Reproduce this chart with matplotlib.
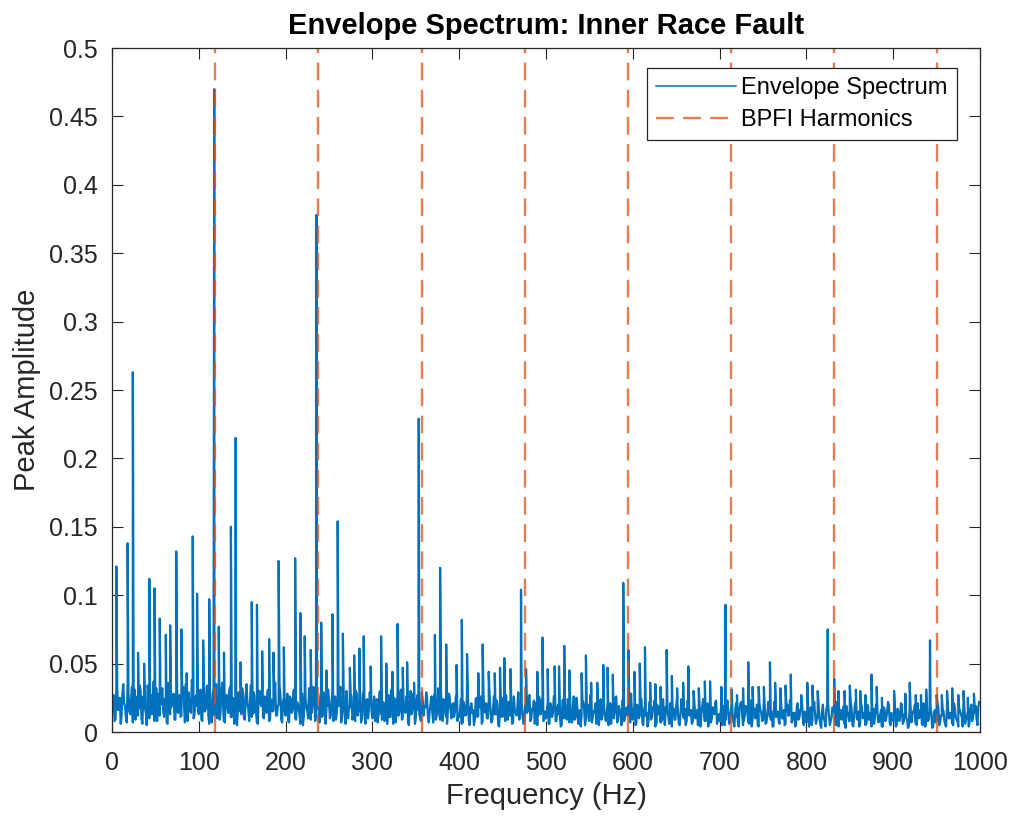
import matplotlib
matplotlib.use("Agg")
import matplotlib.pyplot as plt
import numpy as np

plt.rcParams["font.family"] = ["Liberation Sans", "DejaVu Sans"]

# noise floor of the envelope spectrum, in milli-amplitude
# even bins: 0, 2, 4 ... 998 Hz
floor_0 = [14, 27, 9, 33, 18, 6, 29, 21, 11, 36, 15, 24, 7, 31, 19, 12, 34, 10, 26, 17, 5, 30, 22, 13, 37,
           16, 8, 28, 20, 32, 11, 25, 6, 35, 18, 23, 9, 30, 14, 27, 12, 33, 7, 21, 29, 15, 38, 10, 24, 19]
floor_100 = [13, 31, 8, 26, 17, 34, 6, 22, 28, 12, 35, 16, 9, 30, 20, 7, 27, 14, 33, 11, 24, 18, 5, 29, 15,
             32, 10, 25, 21, 8, 34, 13, 27, 17, 6, 30, 19, 11, 26, 14, 31, 9, 23, 16, 36, 12, 20, 28, 7, 25]
floor_200 = [12, 28, 7, 24, 16, 31, 9, 21, 13, 27, 5, 30, 18, 10, 25, 14, 33, 8, 22, 17, 26, 11, 29, 6, 19,
             24, 12, 32, 15, 9, 27, 20, 7, 23, 14, 30, 10, 18, 26, 13, 8, 28, 16, 22, 11, 31, 6, 24, 17, 20]
floor_300 = [10, 26, 15, 7, 29, 13, 22, 8, 27, 17, 11, 31, 6, 20, 24, 12, 28, 9, 18, 14, 25, 5, 30, 16, 21,
             10, 27, 13, 8, 23, 19, 29, 11, 15, 26, 7, 22, 12, 32, 9, 18, 24, 14, 6, 28, 16, 20, 11, 25, 8]
floor_400 = [11, 24, 7, 19, 13, 27, 5, 21, 16, 9, 25, 12, 18, 6, 28, 14, 10, 23, 17, 8, 26, 13, 20, 4, 22,
             15, 11, 27, 9, 18, 24, 7, 16, 12, 29, 10, 21, 6, 19, 14, 25, 8, 17, 23, 11, 5, 26, 13, 20, 9]
floor_500 = [10, 22, 6, 18, 14, 25, 8, 20, 12, 5, 24, 15, 9, 21, 17, 7, 26, 11, 19, 13, 4, 23, 16, 10, 20,
             8, 27, 12, 15, 6, 22, 18, 9, 24, 11, 14, 5, 21, 17, 10, 25, 7, 19, 13, 23, 8, 16, 12, 20, 28]
floor_600 = [9, 21, 6, 17, 12, 24, 5, 19, 14, 8, 22, 11, 16, 4, 20, 13, 7, 23, 10, 18, 15, 6, 21, 12, 9,
             19, 14, 5, 24, 11, 17, 8, 20, 13, 6, 22, 10, 16, 12, 4, 19, 15, 8, 21, 11, 7, 18, 13, 23, 9]
floor_700 = [8, 20, 12, 5, 18, 14, 9, 22, 7, 16, 11, 4, 21, 13, 8, 19, 15, 6, 23, 10, 17, 12, 5, 20, 14,
             9, 18, 7, 22, 11, 15, 4, 19, 13, 8, 24, 10, 16, 6, 20, 12, 17, 9, 14, 5, 21, 11, 18, 8, 15]
floor_800 = [7, 19, 11, 5, 17, 13, 9, 21, 6, 15, 10, 4, 20, 12, 8, 18, 14, 5, 22, 9, 16, 11, 6, 19, 13,
             8, 17, 4, 21, 10, 15, 7, 18, 12, 5, 20, 9, 14, 11, 6, 19, 13, 8, 16, 4, 17, 10, 22, 7, 14]
floor_900 = [8, 18, 5, 15, 11, 20, 7, 13, 9, 4, 19, 12, 16, 6, 21, 10, 14, 5, 17, 11, 8, 20, 13, 4, 16,
             9, 18, 7, 12, 15, 5, 19, 10, 14, 6, 21, 11, 8, 17, 13, 4, 18, 9, 15, 7, 20, 12, 16, 10, 18]

# odd bins: 1, 3, 5 ... 999 Hz
odd_0 = [22, 8, 31, 16, 25, 11, 35, 19, 7, 28, 13, 33, 20, 9, 26, 17, 30, 6, 23, 14, 34, 10, 27, 18, 8,
         32, 21, 12, 29, 15, 24, 7, 36, 13, 20, 28, 9, 31, 17, 11, 26, 19, 35, 8, 23, 14, 30, 12, 27, 16]
odd_100 = [21, 9, 29, 15, 33, 12, 24, 7, 31, 18, 10, 27, 14, 36, 8, 22, 19, 30, 11, 25, 6, 32, 16, 20, 13,
           28, 9, 35, 17, 23, 11, 29, 14, 7, 26, 21, 33, 10, 18, 30, 8, 24, 15, 28, 12, 19, 34, 9, 22, 16]
odd_200 = [19, 8, 26, 14, 30, 10, 22, 17, 6, 28, 12, 24, 15, 32, 9, 20, 27, 11, 18, 7, 29, 13, 23, 16, 31,
           10, 21, 8, 26, 14, 19, 33, 11, 25, 6, 22, 17, 28, 9, 15, 30, 12, 20, 7, 27, 13, 23, 10, 29, 15]
odd_300 = [17, 8, 24, 12, 30, 9, 21, 15, 6, 27, 11, 19, 25, 7, 22, 14, 31, 10, 17, 26, 8, 20, 13, 28, 6,
           23, 16, 10, 29, 12, 18, 24, 7, 21, 15, 27, 9, 19, 13, 30, 8, 22, 11, 17, 26, 10, 21, 14, 28, 12]
odd_400 = [16, 6, 22, 12, 28, 9, 18, 14, 5, 24, 11, 20, 26, 8, 15, 21, 10, 27, 7, 17, 13, 23, 5, 19, 11,
           25, 8, 16, 22, 12, 6, 26, 14, 18, 9, 23, 13, 7, 21, 15, 27, 10, 17, 6, 22, 12, 19, 24, 8, 15]
odd_500 = [15, 6, 21, 11, 26, 8, 17, 13, 4, 23, 10, 19, 24, 7, 14, 20, 9, 25, 6, 16, 12, 22, 5, 18, 10,
           27, 7, 15, 21, 11, 5, 24, 13, 17, 8, 22, 12, 6, 20, 14, 26, 9, 16, 5, 21, 11, 18, 23, 7, 14]
odd_600 = [14, 5, 20, 10, 24, 7, 16, 12, 4, 22, 9, 18, 23, 6, 13, 19, 8, 24, 5, 15, 11, 21, 4, 17, 9,
           25, 6, 14, 20, 10, 5, 23, 12, 16, 7, 21, 11, 5, 19, 13, 24, 8, 15, 4, 20, 10, 17, 22, 6, 13]
odd_700 = [13, 5, 19, 9, 23, 6, 15, 11, 4, 21, 8, 17, 22, 5, 12, 18, 7, 23, 4, 14, 10, 20, 4, 16, 8,
           24, 6, 13, 19, 9, 4, 22, 11, 15, 6, 20, 10, 5, 18, 12, 23, 7, 14, 4, 19, 9, 16, 21, 5, 12]
odd_800 = [12, 4, 18, 9, 22, 6, 14, 10, 3, 20, 8, 16, 21, 5, 11, 17, 7, 22, 4, 13, 9, 19, 3, 15, 8,
           23, 5, 12, 18, 9, 4, 21, 10, 14, 6, 19, 9, 4, 17, 11, 22, 7, 13, 4, 18, 8, 15, 20, 5, 11]
odd_900 = [12, 4, 17, 8, 21, 6, 13, 10, 3, 19, 7, 15, 20, 5, 11, 16, 6, 21, 4, 12, 9, 18, 3, 14, 7,
           22, 5, 12, 17, 8, 4, 20, 10, 13, 5, 18, 9, 4, 16, 11, 21, 6, 12, 4, 17, 8, 14, 19, 5, 22]

# spectral lines standing out of the floor (Hz, amplitude)
peak_freq = [5, 18, 24, 30, 37, 43, 49, 55, 62, 67, 74, 80, 86, 93, 98, 105, 112, 117.8, 123, 129,
             137, 142.5, 148, 161, 167, 173, 181, 186, 192, 198,
             211, 217, 222, 229, 235.6, 241, 247, 254, 260, 266, 274, 279, 285, 290, 298, 310, 316, 323, 329, 335,
             340, 348, 353.4,
             372, 378, 385, 397, 403, 409, 422, 427, 434, 441, 447, 452, 459, 471.2, 477, 490, 496, 502, 510, 515,
             521, 527, 541, 546, 552, 559, 566, 571, 577, 589, 595, 602, 608,
             614, 620, 626, 632, 639, 645, 651, 658, 664, 670, 676, 683, 689, 702, 706.8, 714, 720, 727, 733, 738,
             745, 751, 758, 764, 770, 776, 782, 794, 801, 807,
             813, 824.6, 832, 837, 844, 850, 857, 862, 868, 875, 881, 887, 901, 914, 919, 926, 932, 938, 942.4, 950,
             956, 962, 968, 975, 981, 986, 993]
peak_amp = [0.121, 0.138, 0.263, 0.058, 0.05, 0.112, 0.105, 0.083, 0.071, 0.078, 0.132, 0.075, 0.043, 0.143,
            0.101, 0.067, 0.097, 0.47, 0.077, 0.058, 0.15, 0.215, 0.051, 0.095, 0.093, 0.059, 0.068, 0.058,
            0.125, 0.062,
            0.127, 0.087, 0.07, 0.06, 0.378, 0.08, 0.045, 0.086, 0.154, 0.072, 0.047, 0.056, 0.061, 0.07, 0.048,
            0.07, 0.05, 0.044, 0.079, 0.047, 0.051, 0.036, 0.229,
            0.071, 0.12, 0.064, 0.049, 0.082, 0.057, 0.043, 0.064, 0.044, 0.043, 0.047, 0.054, 0.046, 0.104,
            0.046, 0.044, 0.069, 0.046, 0.048, 0.048, 0.063, 0.045, 0.043, 0.056, 0.036, 0.036, 0.049, 0.047,
            0.042, 0.109, 0.06, 0.044, 0.05,
            0.062, 0.036, 0.035, 0.033, 0.06, 0.041, 0.032, 0.036, 0.048, 0.03, 0.032, 0.037, 0.037, 0.033,
            0.093, 0.031, 0.027, 0.032, 0.051, 0.033, 0.033, 0.033, 0.051, 0.036, 0.032, 0.034, 0.042, 0.027,
            0.036, 0.034,
            0.03, 0.075, 0.039, 0.03, 0.03, 0.034, 0.031, 0.03, 0.027, 0.042, 0.033, 0.025, 0.03, 0.028, 0.036,
            0.027, 0.027, 0.031, 0.067, 0.027, 0.027, 0.03, 0.032, 0.027, 0.03, 0.025, 0.028]

bpfi = 118.875
harmonics = [1, 2, 3, 4, 5, 6, 7, 8]

x_ticks = [0, 100, 200, 300, 400, 500, 600, 700, 800, 900, 1000]
y_ticks = [0, 0.05, 0.1, 0.15, 0.2, 0.25, 0.3, 0.35, 0.4, 0.45, 0.5]
y_tick_labels = ["0", "0.05", "0.1", "0.15", "0.2", "0.25", "0.3", "0.35", "0.4", "0.45", "0.5"]

BLUE = "#0072BD"
ORANGE = "#D95319"
DARK = "#262626"

even = np.array(floor_0 + floor_100 + floor_200 + floor_300 + floor_400 +
                floor_500 + floor_600 + floor_700 + floor_800 + floor_900) / 1000.0
odd = np.array(odd_0 + odd_100 + odd_200 + odd_300 + odd_400 +
               odd_500 + odd_600 + odd_700 + odd_800 + odd_900) / 1000.0
even_freq = np.arange(len(even)) * 2.0
odd_freq = np.arange(len(odd)) * 2.0 + 1.0

freq = np.concatenate([even_freq, odd_freq, peak_freq])
amp = np.concatenate([even, odd, peak_amp])
order = np.argsort(freq, kind="stable")
freq, amp = freq[order], amp[order]

fig = plt.figure(figsize=(10.12, 8.18), dpi=100)
ax = fig.add_axes([112 / 1012, 1 - 732 / 818, 868 / 1012, 684 / 818])

ax.plot(freq, amp, color=BLUE, lw=1.6, label="Envelope Spectrum")
for i, k in enumerate(harmonics):
    ax.axvline(k * bpfi, color=ORANGE, alpha=0.75, lw=1.7, dashes=(7.5, 4),
               label="BPFI Harmonics" if i == 0 else None)

ax.set_xlim(0, 1000)
ax.set_ylim(0, 0.5)
ax.set_xticks(x_ticks)
ax.set_yticks(y_ticks, y_tick_labels)
ax.tick_params(direction="in", length=8, width=0.8, top=True, right=True,
               labelsize=18, colors=DARK)
ax.tick_params(axis="x", pad=14)
ax.tick_params(axis="y", pad=10)
for spine in ax.spines.values():
    spine.set_color(DARK)
    spine.set_linewidth(0.9)

ax.set_xlabel("Frequency (Hz)", fontsize=21, color=DARK, labelpad=5)
ax.set_ylabel("Peak Amplitude", fontsize=21, color=DARK, labelpad=6)
ax.set_title("Envelope Spectrum: Inner Race Fault", fontsize=21, fontweight="bold", pad=10)

leg = ax.legend(loc="upper right", bbox_to_anchor=(0.9735, 0.9708), borderaxespad=0,
                fontsize=17, handlelength=3.4, fancybox=False, framealpha=1,
                edgecolor=DARK, borderpad=0.4, labelspacing=0.4, handletextpad=0.2)
leg.get_frame().set_linewidth(0.9)
leg.get_lines()[0].set_linewidth(1.1)

fig.savefig("out.png", dpi=100)
